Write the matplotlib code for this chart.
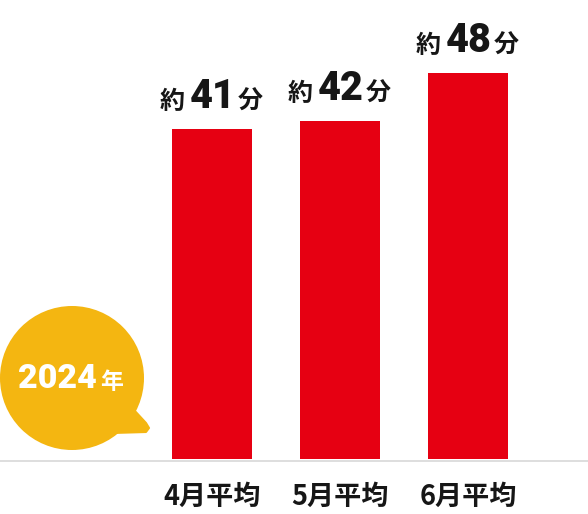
import matplotlib
matplotlib.use("Agg")
import matplotlib.pyplot as plt
from matplotlib.patches import Circle, Polygon

months = ["4月平均", "5月平均", "6月平均"]
minutes = [41, 42, 48]
year = "2024"

W, H = 588, 514
RED = "#E60012"
YELLOW = "#F4B611"
INK = "#161616"
CJK = "Noto Sans CJK JP"

fig = plt.figure(figsize=(W / 100, H / 100), dpi=100)

# bars on a data axes (0 min at pixel row 459, ~8.05 px per minute, 128 px between bars)
ax = fig.add_axes([0, 0, 1, 1])
x = list(range(len(minutes)))
ax.bar(x, minutes, width=80 / 128, color=RED)
ax.set_xlim(-212 / 128, (W - 212) / 128)
ax.set_ylim(-(H - 459) / 8.05, 459 / 8.05)
ax.axis("off")

# overlay in pixel coords for the decorations
px = fig.add_axes([0, 0, 1, 1], zorder=2)
px.set_xlim(0, W)
px.set_ylim(H, 0)
px.axis("off")
px.patch.set_alpha(0)

px.plot([0, W], [460.5, 460.5], color="#d4d4d4", lw=1.1, solid_capstyle="butt")

# speech bubble
px.add_patch(Circle((72, 378), 72, color=YELLOW, lw=0))
px.add_patch(Polygon([(105, 425), (134, 410), (146, 423), (149, 428), (146, 432), (112, 433)],
                     closed=True, facecolor=YELLOW, edgecolor=YELLOW, lw=1.5, joinstyle="round"))

fig.canvas.draw()
r = fig.canvas.get_renderer()


def to_px(bb):
    return bb.x0, bb.x1


t = px.text(18, 388, year, ha="left", va="baseline", fontsize=24.5, fontweight=900,
            family="Roboto", color="white")
x0, x1 = to_px(t.get_window_extent(r))
px.text(x1 + 3, 389, "年", ha="left", va="baseline", fontsize=16.5, fontweight="bold",
        family=CJK, color="white")

# value labels
for i, v in enumerate(minutes):
    dx, dy = ax.transData.transform((i, v))
    top = H - dy
    base = top - 21
    t = px.text(dx + 1, base, str(v), ha="center", va="baseline", fontsize=28.5, fontweight=900,
                family="Roboto", color=INK)
    x0, x1 = to_px(t.get_window_extent(r))
    px.text(x0 - 5, base + 1, "約", ha="right", va="baseline", fontsize=18, fontweight="bold",
            family=CJK, color=INK)
    px.text(x1 + 2, base + 1, "分", ha="left", va="baseline", fontsize=18, fontweight="bold",
            family=CJK, color=INK)

# category labels
for i, m in enumerate(months):
    dx, _ = ax.transData.transform((i, 0))
    px.text(dx, 497, m, ha="center", va="center", fontsize=19.5, fontweight="bold",
            family=CJK, color=INK)

fig.savefig("out.png", dpi=100)
